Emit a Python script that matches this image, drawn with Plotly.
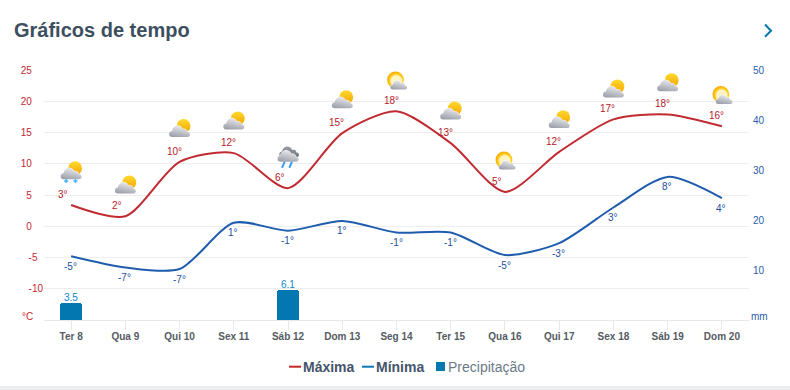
import base64
import plotly.graph_objects as go

# ---- data ----
days = ["Ter 8", "Qua 9", "Qui 10", "Sex 11", "Sáb 12", "Dom 13", "Seg 14",
        "Ter 15", "Qua 16", "Qui 17", "Sex 18", "Sáb 19", "Dom 20"]
max_curve = [3.4, 1.6, 10.3, 11.7, 6.1, 14.9, 18.4, 13.3, 5.5, 11.9, 17.1, 17.9, 16.0]
min_curve = [-4.8, -6.6, -6.85, 0.55, -0.7, 0.85, -1.0, -1.0, -4.6, -2.7, 3.0, 7.9, 4.5]
max_labels = ["3°", "2°", "10°", "12°", "6°", "15°", "18°", "13°", "5°", "12°", "17°", "18°", "16°"]
min_labels = ["-5°", "-7°", "-7°", "1°", "-1°", "1°", "-1°", "-1°", "-5°", "-3°", "3°", "8°", "4°"]
rain = [3.5, None, None, None, 6.1, None, None, None, None, None, None, None, None]
icon_kinds = ["snow", "partly", "partly", "partly", "rain", "partly", "sunny",
              "partly", "sunny", "partly", "partly", "partly", "sunny"]
icon_level = [8.44, 6.65, 15.7, 16.9, 11.0, 20.3, 23.4, 18.5, 10.6, 17.1, 22.0, 23.0, 21.1]
temp_ticks = [25, 20, 15, 10, 5, 0, -5, -10, -15]
PAD4 = "\u00a0\u00a0\u00a0\u00a0"
temp_tick_text = ["25" + PAD4, "20" + PAD4, "15" + PAD4, "10" + PAD4, "5" + PAD4, "0" + PAD4,
                  "-5\u00a0\u00a0", "-10", ""]
rain_ticks = [10, 20, 30, 40, 50]

# ---- geometry ----
W, H = 790, 390
L, R, T, B = 44, 749, 70, 320
def px(x): return (x - L) / (R - L)
def py(y): return (B - y) / (B - T)

# ---- colours ----
RED, BLUE = "#c02a30", "#1f5cae"
BAR = "#0277b0"
DEFS = """<defs>
<linearGradient id="s" x1="0" y1="0" x2="0" y2="1"><stop offset="0" stop-color="#ffd92e"/><stop offset="1" stop-color="#f3a400"/></linearGradient>
<linearGradient id="c" x1="0.7" y1="0" x2="0.3" y2="1"><stop offset="0" stop-color="#eeeef0"/><stop offset="1" stop-color="#9ca0aa"/></linearGradient>
<linearGradient id="d" x1="0" y1="0" x2="0" y2="1"><stop offset="0" stop-color="#9a9da5"/><stop offset="1" stop-color="#6f737c"/></linearGradient>
<radialGradient id="r" cx="0.55" cy="0.55" r="0.55"><stop offset="0.55" stop-color="#fff3c4"/><stop offset="0.72" stop-color="#ffcf1f"/><stop offset="1" stop-color="#f5a800"/></radialGradient>
</defs>"""
CLOUD = ("M7.5 23.75C5.5 23.75 4.5 22.5 4.5 21C4.5 19 6 17.8 7.5 17.8C8 14.5 10.5 12.5 13 12.5"
         "C15.5 12.5 17.5 14 18.3 16.3C19 15.8 20 15.7 20.8 16C22 16.5 22.6 17.5 22.7 18.7"
         "C24.5 18.9 25.5 20 25.5 21.3C25.5 22.8 24.5 23.75 23 23.75Z")
def svg(body):
    s = f'<svg xmlns="http://www.w3.org/2000/svg" width="60" height="60" viewBox="0 0 30 30">{DEFS}{body}</svg>'
    return "data:image/svg+xml;base64," + base64.b64encode(s.encode()).decode()
PARTLY = f'<circle cx="19" cy="12.75" r="6.9" fill="url(#s)"/><path d="{CLOUD}" fill="#fff" stroke="#fff" stroke-width="0.6"/><path d="{CLOUD}" fill="url(#c)"/>'
ICONS = {
    "partly": svg(PARTLY),
    "snow": svg(f'<g transform="translate(0,-3)">{PARTLY}</g>'
                '<path d="M10 20.5V24.5M8 22.5H12M19.3 20.5V24.5M17.3 22.5H21.3" stroke="#45b6f5" stroke-width="1.5"/>'),
    "rain": svg(f'<g transform="translate(0,-4.5)"><path d="{CLOUD}" transform="translate(2,-3.2) scale(0.94)" fill="url(#d)"/>'
                f'<path d="{CLOUD}" fill="#fff" stroke="#fff" stroke-width="0.7"/><path d="{CLOUD}" fill="url(#c)"/></g>'
                '<path d="M11.3 20L9.3 24.5M18.6 20L16.6 24.5" stroke="#3f9cf0" stroke-width="2" stroke-linecap="round"/>'),
    "sunny": svg('<circle cx="14" cy="15" r="8.4" fill="url(#r)"/>'
                 f'<path d="{CLOUD}" transform="translate(5.2,5.5) scale(0.8)" fill="#fff" stroke="#fff"/>'
                 f'<path d="{CLOUD}" transform="translate(5.2,5.5) scale(0.8)" fill="url(#c)"/>'),
}

x_idx = list(range(len(days)))
fig = go.Figure()
fig.add_bar(x=x_idx, y=rain, yaxis="y2", name="Precipitação", width=0.406,
            marker=dict(color=BAR, line_width=0, cornerradius=3), showlegend=False)
fig.add_scatter(x=x_idx, y=max_curve, name="Máxima", mode="lines", showlegend=False,
                line=dict(color=RED, width=2, shape="spline", smoothing=0.75))
fig.add_scatter(x=x_idx, y=min_curve, name="Mínima", mode="lines", showlegend=False,
                line=dict(color=BLUE, width=2, shape="spline", smoothing=0.75))

annotations = []
for i in x_idx:
    annotations.append(dict(x=i, y=max_curve[i], text=max_labels[i], showarrow=False, xanchor="left", yanchor="middle",
                            xshift=-15, yshift=10.5, font=dict(size=10, color="#b5202a")))
    annotations.append(dict(x=i, y=min_curve[i], text=min_labels[i], showarrow=False, xanchor="center", yanchor="middle",
                            xshift=-0.5, yshift=-10, font=dict(size=10, color="#1c4f9c")))
    if rain[i] is not None:
        annotations.append(dict(x=i, y=rain[i], yref="y2", text=str(rain[i]), showarrow=False, xanchor="center",
                                yanchor="middle", yshift=5, font=dict(size=10, color="#0f86c8")))
def note(x, y, text, size, color, anchor="left", bold=False):
    annotations.append(dict(xref="paper", yref="paper", x=px(x), y=py(y), text=f"<b>{text}</b>" if bold else text,
                            showarrow=False, xanchor=anchor, yanchor="middle",
                            borderpad=0, borderwidth=0, font=dict(size=size, color=color)))
note(14, 30, "Gráficos de tempo", 20, "#3d4f5f", bold=True)
note(33, 316, "°C", 10, "#c62833", anchor="right")
note(751, 316, "mm", 10, "#2a5caa")
note(303, 367, "Máxima", 14, "#44546a", bold=True)
note(376, 367, "Mínima", 14, "#44546a", bold=True)
note(448, 367, "Precipitação", 14, "#6b7a88")

shapes = [
    dict(type="rect", xref="paper", yref="paper", x0=px(0), x1=px(W), y0=py(386), y1=py(H), fillcolor="#eceef0", line_width=0, layer="below"),
    dict(type="line", xref="paper", yref="paper", x0=px(289), x1=px(301), y0=py(366.7), y1=py(366.7), line=dict(color="#c62828", width=2)),
    dict(type="line", xref="paper", yref="paper", x0=px(362), x1=px(374), y0=py(366.7), y1=py(366.7), line=dict(color="#0f78b5", width=2)),
    dict(type="rect", xref="paper", yref="paper", x0=px(436), x1=px(445), y0=py(362), y1=py(371), fillcolor=BAR, line_width=0),
    dict(type="path", xref="paper", yref="paper",
         path=f"M{px(765)} {py(24.5)}L{px(771)} {py(30.7)}L{px(765)} {py(36.7)}", line=dict(color=BAR, width=2)),
]
images = [dict(source=ICONS[k], xref="x", yref="y", x=i, y=icon_level[i], sizex=30 / 54.23, sizey=30 / 6.25,
               xanchor="center", yanchor="middle", sizing="stretch", layer="above")
          for i, k in enumerate(icon_kinds)]

fig.update_layout(
    width=W, height=H, autosize=False, margin=dict(l=L, r=W - R, t=T, b=H - B, pad=0, autoexpand=False),
    paper_bgcolor="#ffffff", plot_bgcolor="#ffffff", showlegend=False,
    font=dict(family="Liberation Sans, Arial, sans-serif", size=10),
    xaxis=dict(range=[-0.5, 12.5], tickvals=x_idx, ticktext=[f"<b>{d}</b>" for d in days], showgrid=False, zeroline=False,
               showline=True, automargin=False, linecolor="#e8e8e8", linewidth=1, ticks="outside", ticklen=9,
               tickcolor="#e8e8e8", tickwidth=1, ticklabelstandoff=-2,
               tickfont=dict(size=10, color="#555b62", family="Liberation Sans")),
    yaxis=dict(range=[-15, 25], tickvals=temp_ticks, ticktext=temp_tick_text, showgrid=True, gridcolor="#eeeeee", gridwidth=1,
               automargin=False, zeroline=False, showline=False, ticks="", tickfont=dict(size=10, color="#c62833")),
    yaxis2=dict(range=[0, 50], overlaying="y", side="right", tickvals=rain_ticks, showgrid=False, zeroline=False,
                automargin=False, showline=False, ticks="", ticklabelstandoff=3, tickfont=dict(size=10, color="#2a5caa")),
    annotations=annotations, shapes=shapes, images=images, bargap=0,
)
fig.write_html("out.html", post_script="document.body.style.margin='0';", config={"displayModeBar": False})
